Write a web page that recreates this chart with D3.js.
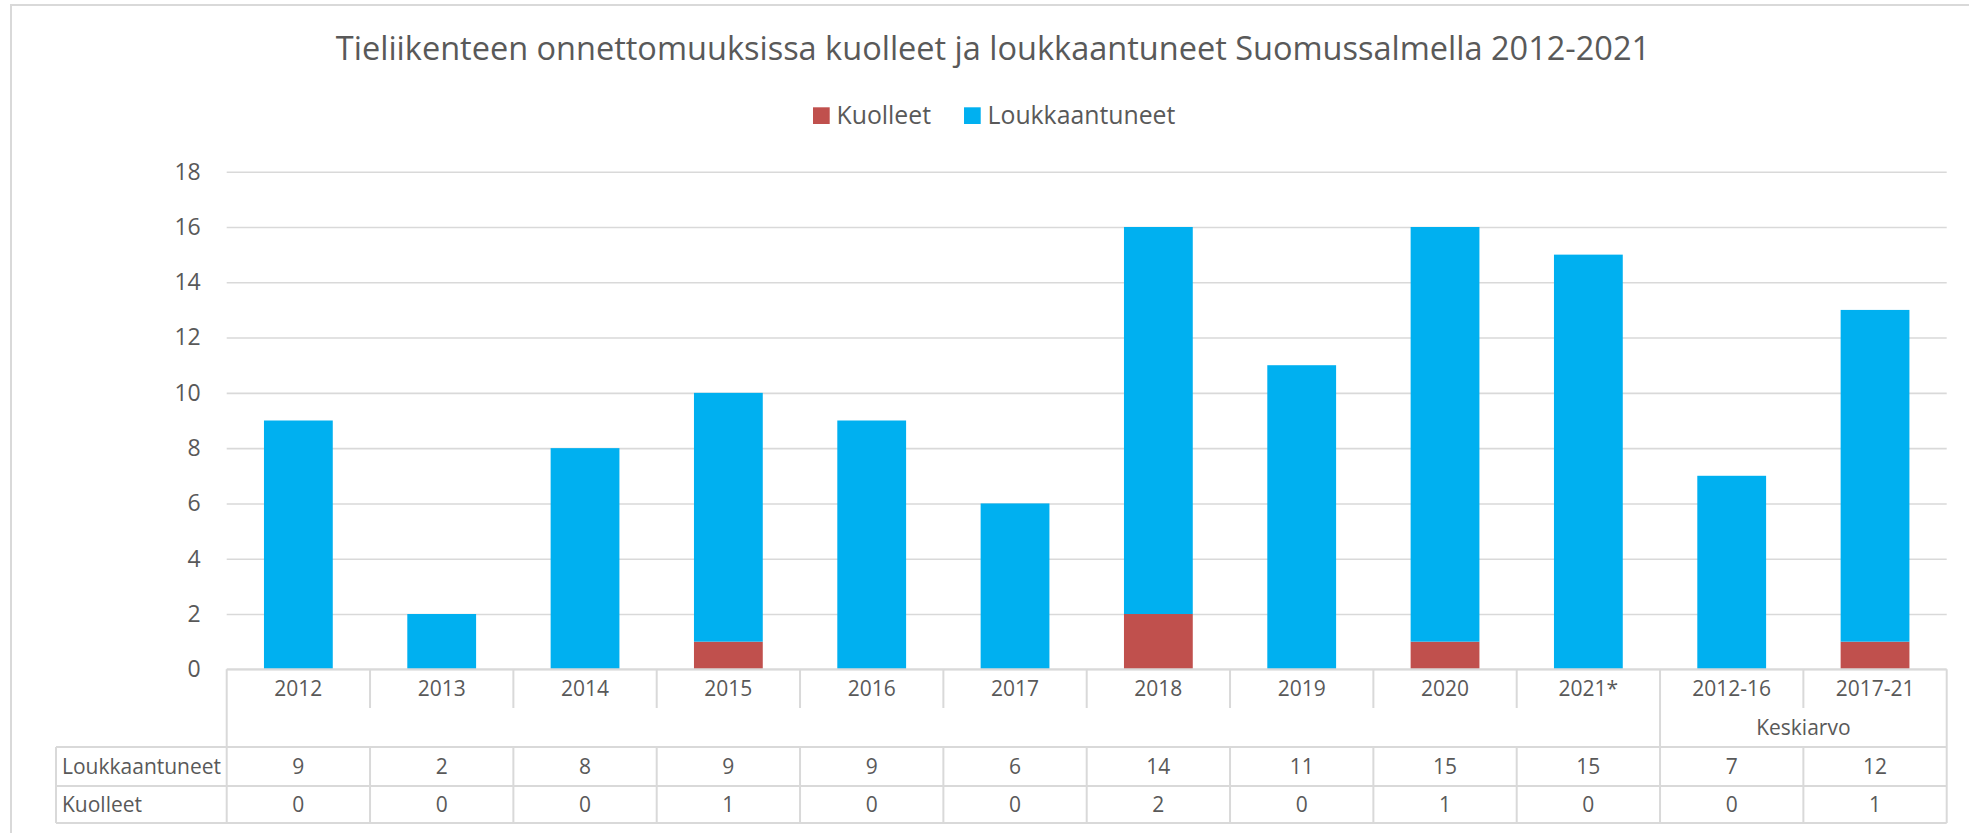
<!DOCTYPE html>
<html>
<head>
<meta charset="utf-8">
<script src="https://cdn.jsdelivr.net/npm/d3@7"></script>
<style>
  html, body { margin: 0; padding: 0; background: #fff; }
  svg { display: block; font-family: "Open Sans", sans-serif; }
</style>
</head>
<body>
<div id="chart"></div>
<script>
// Tieliikenteen onnettomuudet, Suomussalmi 2012-2021 (pinottu pylväs + datataulukko)

const TITLE = "Tieliikenteen onnettomuuksissa kuolleet ja loukkaantuneet Suomussalmella 2012-2021";
const categories = ["2012", "2013", "2014", "2015", "2016", "2017", "2018", "2019", "2020", "2021*", "2012-16", "2017-21"];
const injured = [9, 2, 8, 9, 9, 6, 14, 11, 15, 15, 7, 12];
const killed = [0, 0, 0, 1, 0, 0, 2, 0, 1, 0, 0, 1];
const yTicks = [0, 2, 4, 6, 8, 10, 12, 14, 16, 18];
const groupLabel = "Keskiarvo";
const groupCategories = ["2012-16", "2017-21"];
const seriesNames = { killed: "Kuolleet", injured: "Loukkaantuneet" };
const seriesColors = { killed: "#C0504D", injured: "#00B0F0" };

const W = 1969, H = 833;
const TEXT = "#595959";
const LINE = "#d9d9d9";

// zones
const plot = { left: 226.7, right: 1946.7, top: 171.7, bottom: 669.3 };
const catRowBottom = 708;
const groupRowBottom = 747;
const row1Bottom = 786;
const row2Bottom = 823;
const tableLeft = 56;

const svg = d3.select("#chart").append("svg")
  .attr("width", W)
  .attr("height", H);

svg.append("rect")
  .attr("width", W).attr("height", H)
  .attr("fill", "#fff");

// cadre extérieur (seulement haut + gauche visibles)
svg.append("rect")
  .attr("x", 11).attr("y", 5)
  .attr("width", W + 10).attr("height", H + 10)
  .attr("fill", "none")
  .attr("stroke", LINE)
  .attr("stroke-width", 2);

// Echelles
const x = d3.scaleBand()
  .domain(categories)
  .range([plot.left, plot.right])
  .paddingInner(0.52)
  .paddingOuter(0.26);

const y = d3.scaleLinear()
  .domain([0, 18])
  .range([plot.bottom, plot.top]);

// Gridlines + labels y
const yAxis = d3.axisLeft(y)
  .tickValues(yTicks)
  .tickSize(-(plot.right - plot.left))
  .tickPadding(26);

const gy = svg.append("g")
  .attr("transform", `translate(${plot.left},0)`)
  .call(yAxis);
gy.select(".domain").remove();
gy.selectAll(".tick line")
  .attr("stroke", LINE)
  .attr("stroke-width", 1.6);
gy.selectAll(".tick text")
  .attr("fill", TEXT)
  .attr("font-size", 23)
  .attr("font-family", "Open Sans, sans-serif");

// Pylväät
const rows = categories.map((c, i) => ({ cat: c, killed: killed[i], injured: injured[i] }));
const stacked = d3.stack().keys(["killed", "injured"])(rows);

svg.append("g")
  .selectAll("g")
  .data(stacked)
  .join("g")
  .attr("fill", s => seriesColors[s.key])
  .selectAll("rect")
  .data(s => s.filter(d => d[1] > d[0]))
  .join("rect")
  .attr("x", d => x(d.data.cat))
  .attr("width", x.bandwidth())
  .attr("y", d => y(d[1]))
  .attr("height", d => y(d[0]) - y(d[1]));

// Akseli + taulukon viivat
const gTable = svg.append("g")
  .attr("stroke", LINE)
  .attr("stroke-width", 2)
  .attr("fill", "none");

const step = x.step();
const edges = d3.range(categories.length + 1).map(i => plot.left + i * step);
const groupStart = categories.indexOf(groupCategories[0]);

function hline(y0, x0, x1) {
  gTable.append("line").attr("x1", x0).attr("x2", x1).attr("y1", y0).attr("y2", y0);
}
function vline(x0, y0, y1) {
  gTable.append("line").attr("x1", x0).attr("x2", x0).attr("y1", y0).attr("y2", y1);
}

hline(plot.bottom, plot.left, plot.right);
hline(groupRowBottom, tableLeft, plot.right);
hline(row1Bottom, tableLeft, plot.right);
hline(row2Bottom, tableLeft, plot.right);
vline(tableLeft, groupRowBottom, row2Bottom);

edges.forEach((ex, i) => {
  const full = i === 0 || i === groupStart || i === categories.length;
  if (full) {
    vline(ex, plot.bottom, row2Bottom);
  } else {
    vline(ex, plot.bottom, catRowBottom);
    vline(ex, groupRowBottom, row2Bottom);
  }
});

// Tekstit
const txt = svg.append("g")
  .attr("fill", TEXT)
  .attr("font-size", 21);

const cx = c => x(c) + x.bandwidth() / 2;

txt.selectAll(".cat")
  .data(categories)
  .join("text")
  .attr("class", "cat")
  .attr("x", cx)
  .attr("y", (plot.bottom + catRowBottom) / 2)
  .attr("dy", "0.35em")
  .attr("text-anchor", "middle")
  .text(d => d);

txt.append("text")
  .attr("x", (x(groupCategories[0]) + x(groupCategories[1]) + x.bandwidth()) / 2)
  .attr("y", (catRowBottom + groupRowBottom) / 2)
  .attr("dy", "0.35em")
  .attr("text-anchor", "middle")
  .text(groupLabel);

const tableRows = [
  { label: seriesNames.injured, values: injured, top: groupRowBottom, bottom: row1Bottom },
  { label: seriesNames.killed, values: killed, top: row1Bottom, bottom: row2Bottom }
];

tableRows.forEach(r => {
  const yc = (r.top + r.bottom) / 2;
  txt.append("text")
    .attr("x", 62)
    .attr("y", yc)
    .attr("dy", "0.35em")
    .text(r.label);

  txt.selectAll(null)
    .data(r.values)
    .join("text")
    .attr("x", (d, i) => cx(categories[i]))
    .attr("y", yc)
    .attr("dy", "0.35em")
    .attr("text-anchor", "middle")
    .text(d => d);
});

// Otsikko
svg.append("text")
  .attr("x", 993)
  .attr("y", 60)
  .attr("text-anchor", "middle")
  .attr("fill", TEXT)
  .attr("font-size", 32.5)
  .text(TITLE);

// Legenda
const legend = svg.append("g").attr("font-size", 24.8).attr("fill", TEXT);
let lx = 813;
["killed", "injured"].forEach(k => {
  legend.append("rect")
    .attr("x", lx).attr("y", 107.3)
    .attr("width", 16.7).attr("height", 16.7)
    .attr("fill", seriesColors[k]);
  const t = legend.append("text")
    .attr("x", lx + 23.5)
    .attr("y", 124)
    .text(seriesNames[k]);
  lx += 23.5 + t.node().getComputedTextLength() + 33;
});
</script>
</body>
</html>
